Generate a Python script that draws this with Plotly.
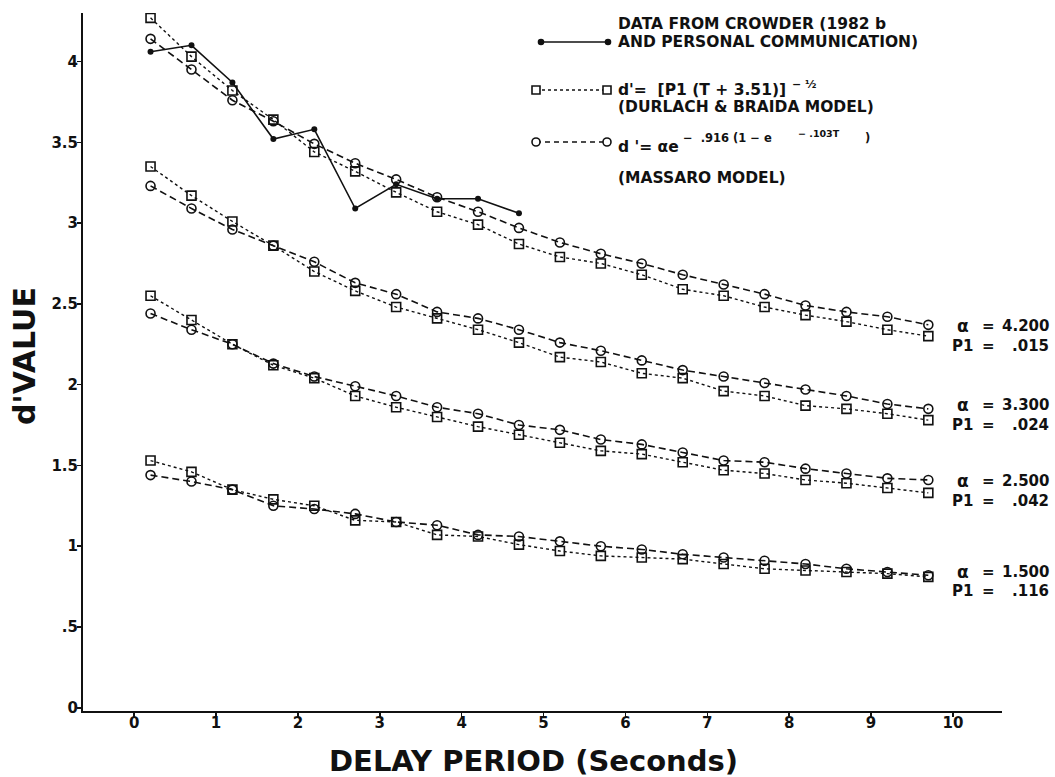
import plotly.graph_objects as go

# ---------------- data ----------------
delay = [0.2, 0.7, 1.2, 1.7, 2.2, 2.7, 3.2, 3.7, 4.2, 4.7,
         5.2, 5.7, 6.2, 6.7, 7.2, 7.7, 8.2, 8.7, 9.2, 9.7]

crowder_delay = [0.2, 0.7, 1.2, 1.7, 2.2, 2.7, 3.2, 3.7, 4.2, 4.7]
crowder_dprime = [4.06, 4.10, 3.87, 3.52, 3.58, 3.09, 3.24, 3.15, 3.15, 3.06]

# Durlach & Braida model (squares)
durlach_p015 = [4.27, 4.03, 3.82, 3.64, 3.44, 3.32, 3.19, 3.07, 2.99, 2.87,
                2.79, 2.75, 2.68, 2.59, 2.55, 2.48, 2.43, 2.39, 2.34, 2.30]
durlach_p024 = [3.35, 3.17, 3.01, 2.86, 2.70, 2.58, 2.48, 2.41, 2.34, 2.26,
                2.17, 2.14, 2.07, 2.04, 1.96, 1.93, 1.87, 1.85, 1.82, 1.78]
durlach_p042 = [2.55, 2.40, 2.25, 2.12, 2.04, 1.93, 1.86, 1.80, 1.74, 1.69,
                1.64, 1.59, 1.57, 1.52, 1.47, 1.45, 1.41, 1.39, 1.36, 1.33]
durlach_p116 = [1.53, 1.46, 1.35, 1.29, 1.25, 1.16, 1.15, 1.07, 1.06, 1.01,
                0.97, 0.94, 0.93, 0.92, 0.89, 0.86, 0.85, 0.84, 0.83, 0.81]

# Massaro model (circles)
massaro_a420 = [4.14, 3.95, 3.76, 3.63, 3.49, 3.37, 3.27, 3.16, 3.07, 2.97,
                2.88, 2.81, 2.75, 2.68, 2.62, 2.56, 2.49, 2.45, 2.42, 2.37]
massaro_a330 = [3.23, 3.09, 2.96, 2.86, 2.76, 2.63, 2.56, 2.45, 2.41, 2.34,
                2.26, 2.21, 2.15, 2.09, 2.05, 2.01, 1.97, 1.93, 1.88, 1.85]
massaro_a250 = [2.44, 2.34, 2.25, 2.13, 2.05, 1.99, 1.93, 1.86, 1.82, 1.75,
                1.72, 1.66, 1.63, 1.58, 1.53, 1.52, 1.48, 1.45, 1.42, 1.41]
massaro_a150 = [1.44, 1.40, 1.35, 1.25, 1.23, 1.20, 1.15, 1.13, 1.07, 1.06,
                1.03, 1.00, 0.98, 0.95, 0.93, 0.91, 0.89, 0.86, 0.84, 0.82]

alpha_labels = ["4.200", "3.300", "2.500", "1.500"]
p1_labels = [".015", ".024", ".042", ".116"]

x_tickvals = [0, 1, 2, 3, 4, 5, 6, 7, 8, 9, 10]
y_tickvals = [0, 0.5, 1, 1.5, 2, 2.5, 3, 3.5, 4]
y_ticktext = ["0", ".5", "1", "1.5", "2", "2.5", "3", "3.5", "4"]

# ---------------- figure ----------------
W, H = 1055, 777
ML, MR, MT, MB = 83, 53, 13, 66
PW, PH = W - ML - MR, H - MT - MB
FONT = "DejaVu Sans, Liberation Sans, Arial, sans-serif"
INK = "#111111"
NB = "\u00a0"
LEG = 15.5


def px(x):
    return (x - ML) / PW


def py(y):
    return (H - MB - y) / PH


fig = go.Figure()

for dvals in [durlach_p015, durlach_p024, durlach_p042, durlach_p116]:
    fig.add_trace(go.Scatter(
        x=delay, y=dvals, mode="lines+markers",
        line=dict(color=INK, width=1.4, dash="dot"),
        marker=dict(symbol="square-open", size=9, color=INK, line=dict(width=1.6)),
        showlegend=False, hoverinfo="skip"))

for mvals in [massaro_a420, massaro_a330, massaro_a250, massaro_a150]:
    fig.add_trace(go.Scatter(
        x=delay, y=mvals, mode="lines+markers",
        line=dict(color=INK, width=1.6, dash="7px,4px"),
        marker=dict(symbol="circle-open", size=9, color=INK, line=dict(width=1.6)),
        showlegend=False, hoverinfo="skip"))

fig.add_trace(go.Scatter(
    x=crowder_delay, y=crowder_dprime, mode="lines+markers",
    line=dict(color=INK, width=1.6),
    marker=dict(symbol="circle", size=6, color=INK),
    showlegend=False, hoverinfo="skip"))

shapes = []
annotations = []


def text(x, y, s, size=LEG, anchor="left", angle=0):
    annotations.append(dict(
        x=px(x), y=py(y), xref="paper", yref="paper", text=s, showarrow=False,
        xanchor=anchor, yanchor="middle", textangle=angle, borderpad=0,
        font=dict(family=FONT, size=size, color=INK, weight="bold")))


def mark(x, y, kind, size, filled=False):
    h = size / 2
    shapes.append(dict(
        type=kind, xref="paper", yref="paper", xsizemode="pixel", ysizemode="pixel",
        xanchor=px(x), yanchor=py(y), x0=-h, x1=h, y0=-h, y1=h,
        line=dict(color=INK, width=1.6),
        fillcolor=INK if filled else "white"))


def seg(x0, x1, y, dash):
    shapes.append(dict(type="line", xref="paper", yref="paper",
                       x0=px(x0), x1=px(x1), y0=py(y), y1=py(y),
                       line=dict(color=INK, width=1.5, dash=dash)))


# legend samples
seg(541, 608, 42, "solid")
mark(541, 42, "circle", 5, True)
mark(608, 42, "circle", 5, True)
seg(536, 607, 90, "dot")
mark(536, 90, "rect", 8)
mark(607, 90, "rect", 8)
seg(536, 607, 142, "5px,4px")
mark(536, 142, "circle", 8)
mark(607, 142, "circle", 8)

# legend texts
text(617, 24, "DATA FROM CROWDER (1982 b")
text(617, 42, "AND PERSONAL COMMUNICATION)")
text(617, 90, "d'=" + NB * 2 + "[P1 (T" + NB + "+" + NB + "3.51)]")
text(791, 84, "−" + NB + "½", 11)
text(617, 107, "(DURLACH & BRAIDA MODEL)")
text(617, 147, "d '= αe")
text(682, 138, "−" + NB * 2 + ".916" + NB + "(1" + NB + "−" + NB + "e", 11.5)
text(797, 133, "−" + NB + ".103T", 9.5)
text(864, 138, ")", 11.5)
text(617, 178, "(MASSARO MODEL)")

# parameter labels on the right
rows = [(326, 346), (405, 425), (481, 501), (572, 591)]
for (ya, yp), a, p in zip(rows, alpha_labels, p1_labels):
    text(963, ya, "α", 17, "center")
    text(988, ya, "=", 15, "center")
    text(1050, ya, a, 15, "right")
    text(951, yp, "P1", 15, "left")
    text(988, yp, "=", 15, "center")
    text(1050, yp, p, 15, "right")

# axis titles
text(24, 356, "d'VALUE", 30, "center", -90)
text(533, 761, "DELAY PERIOD (Seconds)", 29, "center")

tickfont = dict(family=FONT, size=15, color=INK, weight="bold")
fig.update_layout(
    width=W, height=H,
    margin=dict(l=ML, r=MR, t=MT, b=MB),
    paper_bgcolor="white", plot_bgcolor="white",
    shapes=shapes, annotations=annotations,
    showlegend=False,
    xaxis=dict(range=[-0.625, 10.6], tickvals=x_tickvals,
               ticks="outside", ticklen=4, tickwidth=1.5, tickcolor=INK,
               ticklabelstandoff=-7,
               showline=True, linecolor=INK, linewidth=2, mirror=False,
               showgrid=False, zeroline=False, tickfont=tickfont),
    yaxis=dict(range=[-0.02, 4.30], tickvals=y_tickvals, ticktext=y_ticktext,
               ticks="outside", ticklen=4, tickwidth=1.5, tickcolor=INK,
               ticklabelstandoff=-4,
               showline=True, linecolor=INK, linewidth=2, mirror=False,
               showgrid=False, zeroline=False, tickfont=tickfont),
)

fig.write_html(
    "out.html",
    config={"displayModeBar": False, "staticPlot": True},
    post_script="document.body.style.margin='0px';document.body.style.overflow='hidden';",
)
